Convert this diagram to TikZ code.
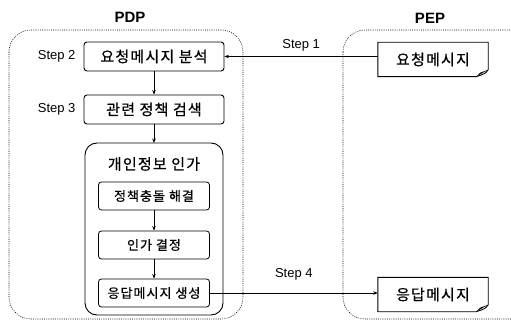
\documentclass[tikz,border=0pt]{standalone}
\usepackage{fontspec}
\setmainfont{Liberation Sans}
\newfontfamily\kr[LetterSpace=8,FakeBold=0.6]{Noto Sans CJK KR}
\usetikzlibrary{arrows.meta}
\tikzset{
  container/.style={draw, line width=0.6pt, dash pattern=on 0.9pt off 1.3pt, rounded corners=22pt},
  stepbox/.style={draw, line width=0.9pt, rounded corners=3pt, minimum width=140pt, minimum height=29pt, font=\kr\fontsize{15}{16}\selectfont, inner sep=0pt},
  groupbox/.style={draw, line width=0.9pt, rounded corners=12pt},
  innerbox/.style={draw, line width=0.8pt, rounded corners=3pt, minimum width=111pt, minimum height=28pt, font=\kr\fontsize{13}{14}\selectfont, inner sep=0pt},
  msgbox/.style={minimum width=110pt, minimum height=34pt, font=\kr\fontsize{15}{16}\selectfont, inner sep=0pt},
  steplabel/.style={font=\fontsize{13}{14}\selectfont},
  title/.style={font=\bfseries\fontsize{15}{16}\selectfont},
  arr/.style={line width=0.7pt, -{Stealth[length=4.5pt,width=3.5pt]}},
}
\begin{document}
\begin{tikzpicture}[x=1pt,y=-1pt]
\useasboundingbox (0,0) rectangle (511,320);
% containers
\draw[container] (9,30) rectangle (243,319);
\draw[container] (343,30) rectangle (540,319);
\node[title] (pdp) at (130,17) {PDP};
\node[title] (pep) at (430,18) {PEP};
% PDP boxes
\node[stepbox] (s2) at (154,56.5) {요청메시지 분석};
\node[stepbox] (s3) at (154,109.5) {관련 정책 검색};
\draw[groupbox] (85,143) rectangle (223,315);
\coordinate (gtop) at (154,143);
\node[font=\kr\fontsize{15}{16}\selectfont] (gt) at (154,164) {개인정보 인가};
\node[innerbox] (i1) at (154,196) {정책충돌 해결};
\node[innerbox] (i2) at (154,245) {인가 결정};
\node[innerbox] (i3) at (154,293) {응답메시지 생성};
% step labels
\node[steplabel, anchor=east] (l2) at (79,56.5) {Step 2};
\node[steplabel, anchor=east] (l3) at (79,109.5) {Step 3};
% PEP messages
\node[msgbox] (req) at (433,59.5) {요청메시지};
\node[msgbox] (res) at (433,294.5) {응답메시지};
\foreach \n in {req,res}{
  \draw[line width=0.9pt] (\n.north west) -- (\n.north east) -- ([yshift=7pt]\n.south east)
     .. controls ([xshift=-3pt,yshift=3pt]\n.south east) .. ([xshift=-12pt]\n.south east) -- (\n.south west) -- cycle;
  \fill ([yshift=7pt]\n.south east) -- ([xshift=-12pt]\n.south east) -- ([xshift=-8pt,yshift=4pt]\n.south east) -- cycle;
}
% arrows
\draw[arr] (s2) -- (s3);
\draw[arr] (s3) -- (gtop);
\draw[arr] (i1) -- (i2);
\draw[arr] (i2) -- (i3);
\draw[arr] (req.west |- s2.east) -- node[steplabel, above=2pt, pos=0.5] (l1) {Step 1} (s2.east);
\draw[arr] (i3.east) -- node[steplabel, above=9pt, pos=0.5] (l4) {Step 4} (res.west |- i3.east);
\end{tikzpicture}
\end{document}
